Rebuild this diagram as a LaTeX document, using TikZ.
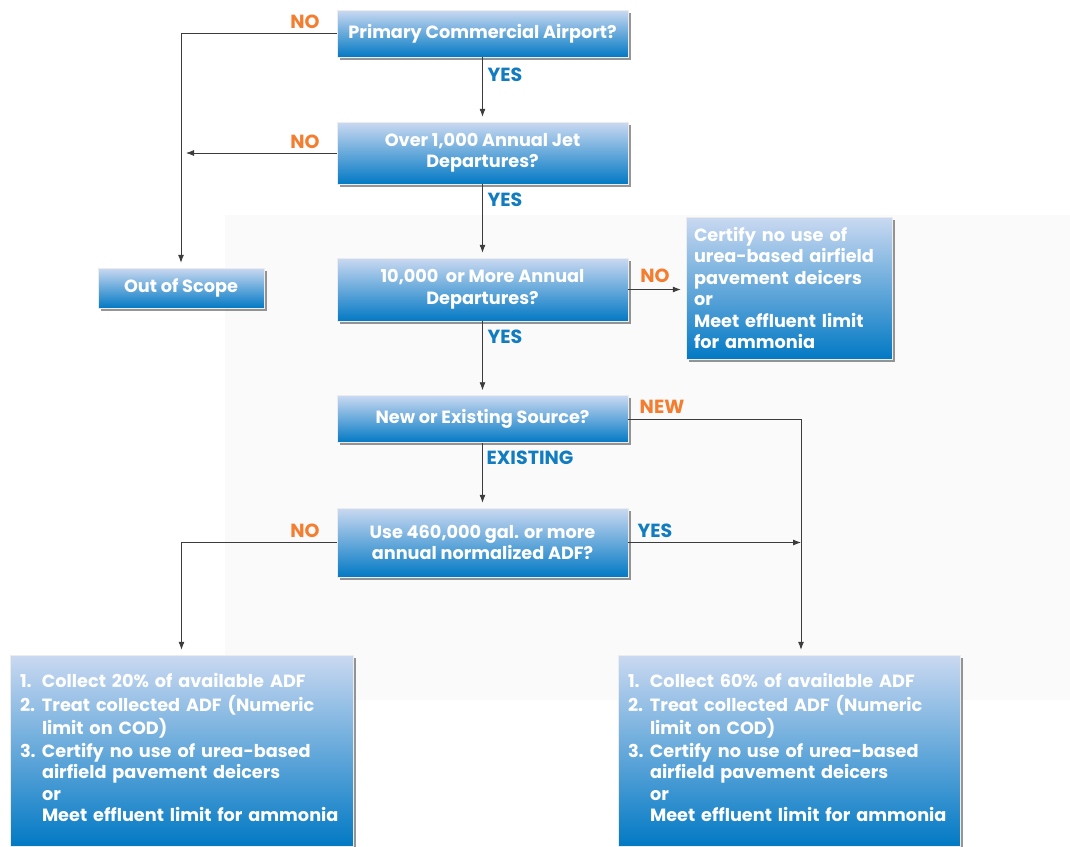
\documentclass[tikz,border=0pt]{standalone}
\usepackage{fontspec}
\setmainfont{Poppins}
\usetikzlibrary{shadows,arrows.meta}
\definecolor{boxtop}{RGB}{202,217,241}
\definecolor{boxbot}{RGB}{2,121,196}
\definecolor{lblorange}{RGB}{244,125,48}
\definecolor{lblblue}{RGB}{18,124,192}
\definecolor{linegray}{RGB}{60,60,60}
\definecolor{bgpanel}{RGB}{250,250,250}
\tikzset{
  qbox/.style={rectangle, top color=boxtop, bottom color=boxbot, draw=white!85!gray, line width=0.5pt,
    text=white, font=\bfseries\fontsize{17.7}{21.5}\selectfont, align=center, inner sep=6pt,
    drop shadow={shadow xshift=2.5pt, shadow yshift=-2.5pt, fill=black!75, opacity=0.55}},
  conn/.style={draw=linegray, line width=0.8pt},
  arr/.style={conn, -{Latex[length=8pt,width=6pt]}, shorten >=5pt},
  nolbl/.style={text=lblorange, font=\bfseries\fontsize{19}{22}\selectfont, inner sep=0pt},
  yeslbl/.style={text=lblblue, font=\bfseries\fontsize{19}{22}\selectfont, inner sep=0pt},
}
\begin{document}
\begin{tikzpicture}[x=1pt,y=-1pt]
\useasboundingbox (0,0) rectangle (1070,846);
\fill[white] (0,0) rectangle (1070,846);
\fill[bgpanel] (225,215) rectangle (1070,700);

\node[qbox, minimum width=291pt, minimum height=47pt] (b1) at (482.5,33.5) {Primary Commercial Airport?};
\node[qbox, minimum width=291pt, minimum height=62pt] (b2) at (482.5,153) {Over 1,000 Annual Jet\\Departures?};
\node[qbox, minimum width=291pt, minimum height=63pt] (b3) at (482.5,289.5) {10,000 \ or More Annual\\Departures?};
\node[qbox, minimum width=291pt, minimum height=47pt] (b4) at (482.5,419) {New or Existing Source?};
\node[qbox, minimum width=291pt, minimum height=69pt] (b5) at (482.5,542.5) {Use 460,000 gal. or more\\annual normalized ADF?};
\node[qbox, minimum width=166pt, minimum height=40pt] (out) at (181,288) {Out of Scope};
\node[qbox, minimum width=206pt, minimum height=142pt, align=left, text width=190pt, inner sep=5pt] (cert) at (789,288)
  {Certify no use of\\urea-based airfield\\pavement deicers\\or\\Meet effluent limit\\for ammonia};
\node[qbox, minimum width=343pt, minimum height=191pt, align=left, text width=323pt, inner sep=10pt] (bl) at (181.5,750.5)
  {\begin{tabular}{@{}p{22pt}@{}l@{}}1.&Collect 20\% of available ADF\\[1.5pt]2.&Treat collected ADF (Numeric\\&limit on COD)\\[1.5pt]3.&Certify no use of urea-based\\&airfield pavement deicers\\&or\\&Meet effluent limit for ammonia\end{tabular}};
\node[qbox, minimum width=342pt, minimum height=191pt, align=left, text width=322pt, inner sep=10pt] (br) at (789,750.5)
  {\begin{tabular}{@{}p{22pt}@{}l@{}}1.&Collect 60\% of available ADF\\[1.5pt]2.&Treat collected ADF (Numeric\\&limit on COD)\\[1.5pt]3.&Certify no use of urea-based\\&airfield pavement deicers\\&or\\&Meet effluent limit for ammonia\end{tabular}};

\coordinate (rc) at ([xshift=12pt]br.north);

\draw[arr] (b1.west) -| (out.north);
\draw[arr] (b2.west) -- (b2.west -| out.north);
\draw[arr] (b1.south) -- (b2.north);
\draw[arr] (b2.south) -- (b3.north);
\draw[arr] (b3.south) -- (b4.north);
\draw[arr] (b4.south) -- (b5.north);
\draw[arr] (b3.east) -- (b3.east -| cert.west);
\draw[arr] (b4.east) -| (rc);
\draw[arr, shorten >=0pt] (b5.east) -- (b5.east -| rc);
\draw[arr] (b5.west) -| (bl.north);

\node[nolbl] (l1) at (305,22) {NO};
\node[yeslbl] (l2) at (505,75) {YES};
\node[nolbl] (l3) at (305,142) {NO};
\node[yeslbl] (l4) at (505,200) {YES};
\node[nolbl] (l5) at (655,276) {NO};
\node[yeslbl] (l6) at (505,337) {YES};
\node[nolbl] (l7) at (662,407) {NEW};
\node[yeslbl] (l8) at (530,458) {EXISTING};
\node[nolbl] (l9) at (305,531) {NO};
\node[yeslbl] (l10) at (655,531) {YES};
\end{tikzpicture}
\end{document}
